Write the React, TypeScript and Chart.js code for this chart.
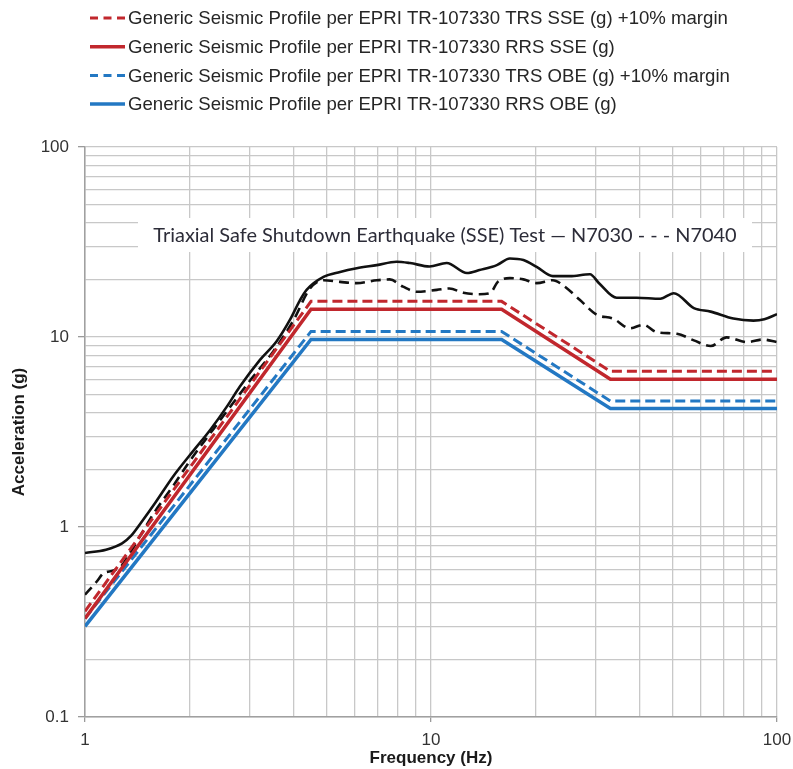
import React, { useEffect, useRef } from "react";
import { Chart, registerables } from "chart.js";

Chart.register(...registerables);

// ---- data ----
const eprFreq = [1, 4.5, 16, 33, 100];
const trsSse = [0.36, 15.4, 15.4, 6.6, 6.6];
const rrsSse = [0.33, 14, 14, 6.0, 6.0];
const trsObe = [0.33, 10.7, 10.7, 4.6, 4.6];
const rrsObe = [0.3, 9.7, 9.7, 4.2, 4.2];

const n7030Freq = [1, 1.15, 1.28, 1.36, 1.45, 1.6, 1.8, 2.05, 2.3, 2.57, 2.8, 3.2, 3.58, 3.91, 4.18, 4.37, 4.89, 5.46, 6.1, 6.97, 7.95, 8.7, 9.9, 11.1, 12.7, 13.8, 15.5, 16.9, 18.5, 20.2, 22.5, 25.2, 28.8, 30.6, 34.4, 39.3, 46, 50.3, 57.5, 64.3, 74.8, 85.5, 91.9, 100];
const n7030 = [0.73, 0.76, 0.82, 0.9, 1.05, 1.35, 1.85, 2.5, 3.24, 4.3, 5.47, 7.56, 9.5, 12.3, 15.6, 17.7, 20.7, 22.0, 23.0, 23.9, 24.9, 24.5, 23.5, 24.5, 21.7, 22.5, 23.9, 25.9, 25.4, 23.4, 20.9, 20.9, 21.4, 19.2, 16.1, 16.1, 15.9, 17.0, 14.2, 13.6, 12.5, 12.2, 12.4, 13.2];

const n7040Freq = [1, 1.08, 1.13, 1.21, 1.28, 1.33, 1.38, 1.44, 1.58, 1.8, 2.0, 2.5, 3.0, 3.5, 4.0, 4.47, 4.89, 5.46, 6.1, 6.97, 7.6, 8.3, 9.1, 10.4, 11.3, 12.4, 13.8, 14.8, 15.6, 16.9, 18.5, 20.2, 22.5, 24.0, 26.9, 30.1, 33.6, 37.6, 41.1, 44.9, 51.4, 57.5, 64.3, 71.5, 82, 90.9, 100];
const n7040 = [0.44, 0.515, 0.57, 0.59, 0.63, 0.7, 0.78, 0.89, 1.18, 1.65, 2.2, 3.8, 5.9, 8.4, 12.2, 18.0, 19.9, 19.5, 19.2, 19.9, 20.1, 18.4, 17.3, 17.7, 18.0, 17.1, 16.8, 17.0, 19.5, 20.4, 20.1, 19.2, 19.9, 18.8, 15.7, 13.1, 12.5, 11.1, 11.6, 10.6, 10.4, 9.6, 8.96, 9.96, 9.4, 9.7, 9.4];

const seriesLabels = [
  "Generic Seismic Profile per EPRI TR-107330 TRS SSE (g) +10% margin",
  "Generic Seismic Profile per EPRI TR-107330 RRS SSE (g)",
  "Generic Seismic Profile per EPRI TR-107330 TRS OBE (g) +10% margin",
  "Generic Seismic Profile per EPRI TR-107330 RRS OBE (g)",
  "N7030",
  "N7040",
];

const annotationText = "Triaxial Safe Shutdown Earthquake (SSE) Test \u2014 N7030 - - - N7040";
const xTitle = "Frequency (Hz)";
const yTitle = "Acceleration (g)";
const xTickLabels = ["1", "10", "100"];
const yTickLabels = ["0.1", "1", "10", "100"];

// ---- helpers ----
const RED = "#c1272d";
const BLUE = "#2378c3";
const FONT = '"Liberation Sans", Arial, sans-serif';

function gridValues(minExp: number, maxExp: number) {
  const out: number[] = [];
  for (let e = minExp; e < maxExp; e++) {
    for (let m = 1; m <= 9; m++) out.push(parseFloat((m * Math.pow(10, e)).toPrecision(3)));
  }
  out.push(Math.pow(10, maxExp));
  return out;
}
const xGrid = gridValues(0, 2);
const yGrid = gridValues(-1, 2);

function labelOf(v: number, labels: string[]) {
  const hit = labels.find((l) => Math.abs(parseFloat(l) - v) < 1e-9 * Math.max(1, v));
  return hit || "";
}

const pts = (xs: number[], ys: number[]) => xs.map((x, i) => ({ x, y: ys[i] }));

const overlayPlugin = {
  id: "overlay",
  beforeDatasetsDraw(chart: any) {
    const { ctx, chartArea } = chart;
    ctx.save();
    const left = chartArea.left + 53;
    const right = chartArea.right - 25;
    ctx.fillStyle = "#ffffff";
    ctx.fillRect(left, 218, right - left, 34);
    const target = 584;
    let size = 18;
    ctx.font = `${size}px Lato, "Open Sans", sans-serif`;
    const w = ctx.measureText(annotationText).width;
    size = (size * target) / w;
    ctx.font = `${size.toFixed(2)}px Lato, "Open Sans", sans-serif`;
    ctx.fillStyle = "#2c2c38";
    ctx.textAlign = "center";
    ctx.textBaseline = "middle";
    ctx.fillText(annotationText, (left + right) / 2, 236);
    ctx.restore();
  },
  afterDraw(chart: any) {
    const { ctx } = chart;
    ctx.save();
    const sets = chart.data.datasets.filter((d: any) => d.inLegend);
    sets.forEach((ds: any, i: number) => {
      const y = 18 + i * 28.7;
      ctx.strokeStyle = ds.borderColor;
      ctx.lineWidth = ds.borderWidth;
      ctx.setLineDash(ds.borderDash && ds.borderDash.length ? [8, 5.5] : []);
      ctx.beginPath();
      ctx.moveTo(90, y);
      ctx.lineTo(125, y);
      ctx.stroke();
      ctx.setLineDash([]);
      ctx.fillStyle = "#262626";
      ctx.font = `18.6px ${FONT}`;
      ctx.textAlign = "left";
      ctx.textBaseline = "middle";
      ctx.fillText(ds.label, 128, y + 1);
    });
    ctx.restore();
  },
};

export default function App() {
  const ref = useRef<HTMLCanvasElement | null>(null);

  useEffect(() => {
    if (!ref.current) return;
    const line = (label: string, xs: number[], ys: number[], color: string, width: number, dash: number[], inLegend: boolean, smooth: boolean) => ({
      label,
      data: pts(xs, ys),
      borderColor: color,
      backgroundColor: color,
      borderWidth: width,
      borderDash: dash,
      pointRadius: 0,
      fill: false,
      tension: 0,
      cubicInterpolationMode: smooth ? "monotone" : "default",
      inLegend,
    });
    const chart = new Chart(ref.current, {
      type: "line",
      data: {
        datasets: [
          line(seriesLabels[0], eprFreq, trsSse, RED, 3, [10, 5], true, false),
          line(seriesLabels[1], eprFreq, rrsSse, RED, 3.5, [], true, false),
          line(seriesLabels[2], eprFreq, trsObe, BLUE, 3, [10, 5], true, false),
          line(seriesLabels[3], eprFreq, rrsObe, BLUE, 3.5, [], true, false),
          line(seriesLabels[4], n7030Freq, n7030, "#111111", 2.6, [], false, true),
          line(seriesLabels[5], n7040Freq, n7040, "#111111", 2.6, [10, 6], false, true),
        ] as any,
      },
      options: {
        responsive: false,
        animation: false,
        devicePixelRatio: 1,
        layout: { padding: { top: 147, right: 16, left: 0, bottom: 0 } },
        plugins: { legend: { display: false }, tooltip: { enabled: false } },
        scales: {
          x: {
            type: "logarithmic",
            min: 1,
            max: 100,
            afterBuildTicks: (s: any) => {
              s.ticks = xGrid.map((v) => ({ value: v }));
            },
            afterFit: (s: any) => {
              s.height = 52;
              s.paddingRight = 0;
              s.paddingLeft = 0;
            },
            ticks: {
              autoSkip: false,
              maxRotation: 0,
              minRotation: 0,
              padding: 8,
              color: "#333333",
              font: { family: FONT, size: 17 },
              callback: (v: any) => labelOf(Number(v), xTickLabels),
            },
            grid: {
              color: "#c8c8c8",
              lineWidth: 1.3,
              tickLength: 5,
              tickColor: (c: any) => (labelOf(c.tick?.value, xTickLabels) ? "#9a9a9a" : "rgba(0,0,0,0)"),
            },
            border: { color: "#a0a0a0", width: 1.5 },
            title: {
              display: true,
              text: xTitle,
              color: "#1a1a1a",
              font: { family: FONT, size: 17, weight: "bold" },
              padding: { top: 0, bottom: 0 },
            },
          },
          y: {
            type: "logarithmic",
            min: 0.1,
            max: 100,
            afterBuildTicks: (s: any) => {
              s.ticks = yGrid.map((v) => ({ value: v }));
            },
            afterFit: (s: any) => {
              s.width = 85;
              s.paddingTop = 0;
              s.paddingBottom = 0;
            },
            ticks: {
              autoSkip: false,
              padding: 9,
              color: "#333333",
              font: { family: FONT, size: 17 },
              callback: (v: any) => labelOf(Number(v), yTickLabels),
            },
            grid: {
              color: "#c8c8c8",
              lineWidth: 1.3,
              tickLength: 7,
              tickColor: (c: any) => (labelOf(c.tick?.value, yTickLabels) ? "#9a9a9a" : "rgba(0,0,0,0)"),
            },
            border: { color: "#a0a0a0", width: 1.5 },
            title: {
              display: true,
              text: yTitle,
              color: "#1a1a1a",
              font: { family: FONT, size: 17, weight: "bold" },
              padding: { top: 9, bottom: 0 },
            },
          },
        },
      } as any,
      plugins: [overlayPlugin],
    });
    return () => chart.destroy();
  }, []);

  return (
    <div style={{ position: "fixed", left: 0, top: 0, width: 793, height: 769, background: "#fff" }}>
      <canvas ref={ref} width={793} height={769} style={{ display: "block", width: 793, height: 769 }} />
    </div>
  );
}
